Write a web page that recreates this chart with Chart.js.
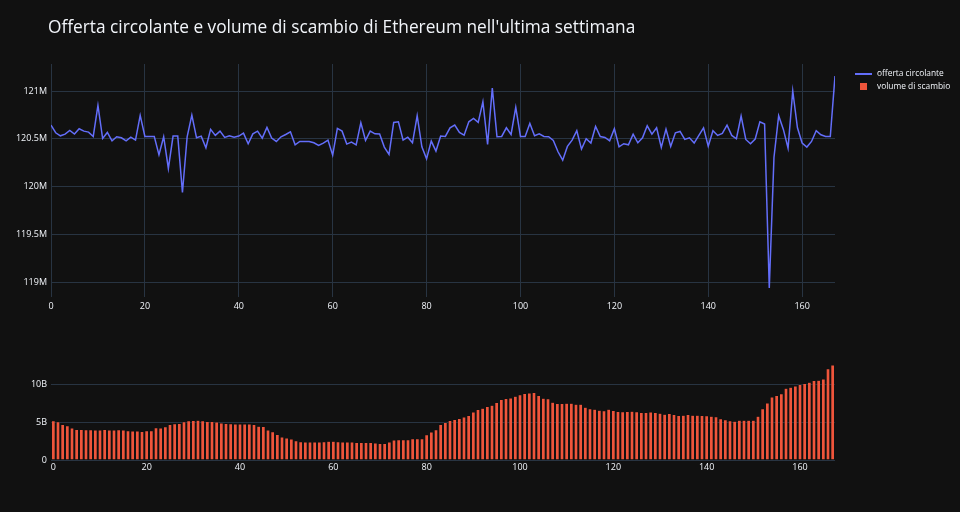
<!DOCTYPE html>
<html>
<head>
<meta charset="utf-8">
<script src="https://cdn.jsdelivr.net/npm/chart.js@4.4.1/dist/chart.umd.min.js"></script>
<style>
  html, body { margin: 0; padding: 0; background: #111111; }
  #wrap { position: relative; width: 960px; height: 512px; background: #111111; overflow: hidden; font-family: "Open Sans", "DejaVu Sans", sans-serif; }
  #title { position: absolute; left: 48px; top: 15px; font-size: 17.3px; color: #f2f5fa; white-space: nowrap; }
  #topCanvas { position: absolute; left: 0; top: 0; }
  #bottomCanvas { position: absolute; left: 0; top: 320px; }
  .legend { position: absolute; left: 855px; font-size: 8.4px; color: #f2f5fa; white-space: nowrap; }
  .legend .sw { display: inline-block; vertical-align: middle; margin-right: 5px; }
</style>
</head>
<body>
<div id="wrap">
  <canvas id="topCanvas" width="960" height="320"></canvas>
  <canvas id="bottomCanvas" width="960" height="192"></canvas>
  <div id="title">Offerta circolante e volume di scambio di Ethereum nell'ultima settimana</div>
  <div class="legend" style="top:67px;"><span class="sw" style="width:17px;height:2px;background:#636efa;"></span>offerta circolante</div>
  <div class="legend" style="top:80px;"><span class="sw" style="width:7px;height:7px;background:#ef553b;margin-left:5px;margin-right:10px;"></span>volume di scambio</div>
</div>
<script>
// hours over the last week (0..167)
const hours = Array.from({ length: 168 }, (_, i) => i);

// circulating supply, millions of ETH
const supply = [
  120.643, 120.563, 120.531, 120.549, 120.587, 120.549, 120.605, 120.580, 120.570, 120.524,
  120.850, 120.503, 120.566, 120.479, 120.521, 120.510, 120.479, 120.517, 120.486, 120.745,
  120.524, 120.524, 120.524, 120.332, 120.521, 120.189, 120.528, 120.528, 119.937, 120.521,
  120.748, 120.510, 120.528, 120.406, 120.598, 120.535, 120.580, 120.514, 120.531, 120.517,
  120.528, 120.559, 120.448, 120.552, 120.580, 120.507, 120.619, 120.507, 120.472, 120.521,
  120.545, 120.573, 120.437, 120.472, 120.472, 120.472, 120.458, 120.430, 120.455, 120.486,
  120.329, 120.608, 120.580, 120.444, 120.465, 120.437, 120.668, 120.483, 120.580, 120.552,
  120.549, 120.413, 120.336, 120.671, 120.678, 120.486, 120.517, 120.458, 120.741, 120.416,
  120.290, 120.476, 120.371, 120.528, 120.524, 120.615, 120.643, 120.566, 120.538, 120.678,
  120.713, 120.671, 120.888, 120.441, 121.031, 120.521, 120.524, 120.615, 120.545, 120.829,
  120.524, 120.524, 120.661, 120.531, 120.552, 120.524, 120.521, 120.483, 120.364, 120.276,
  120.420, 120.486, 120.584, 120.392, 120.500, 120.455, 120.629, 120.524, 120.514, 120.479,
  120.605, 120.416, 120.448, 120.437, 120.549, 120.458, 120.510, 120.636, 120.549, 120.615,
  120.409, 120.601, 120.420, 120.563, 120.577, 120.493, 120.510, 120.455, 120.535, 120.615,
  120.423, 120.584, 120.535, 120.556, 120.643, 120.535, 120.500, 120.738, 120.493, 120.448,
  120.497, 120.678, 120.654, 118.937, 120.304, 120.741, 120.598, 120.402, 121.000, 120.615,
  120.455, 120.413, 120.472, 120.584, 120.542, 120.524, 120.524, 121.157
];

// trading volume, billions
const volume = [
  5.18, 5.04, 4.69, 4.52, 4.21, 4.04, 4.04, 3.99, 3.99, 3.95,
  3.95, 4.04, 3.95, 3.95, 3.99, 3.95, 3.86, 3.82, 3.82, 3.77,
  3.86, 3.86, 4.25, 4.21, 4.39, 4.69, 4.78, 4.82, 5.04, 5.18,
  5.22, 5.26, 5.18, 5.09, 5.09, 5.00, 4.87, 4.82, 4.78, 4.74,
  4.74, 4.74, 4.74, 4.69, 4.47, 4.43, 3.95, 3.73, 3.38, 3.03,
  2.89, 2.76, 2.54, 2.41, 2.39, 2.37, 2.37, 2.37, 2.41, 2.46,
  2.46, 2.41, 2.37, 2.37, 2.37, 2.32, 2.32, 2.32, 2.32, 2.24,
  2.19, 2.19, 2.37, 2.63, 2.68, 2.68, 2.68, 2.81, 2.81, 2.81,
  3.33, 3.68, 3.99, 4.69, 4.96, 5.22, 5.35, 5.48, 5.66, 5.88,
  6.32, 6.67, 6.84, 7.06, 7.24, 7.59, 7.98, 8.11, 8.20, 8.42,
  8.60, 8.77, 8.86, 8.90, 8.51, 8.16, 8.07, 7.63, 7.46, 7.46,
  7.50, 7.50, 7.37, 7.37, 6.97, 6.75, 6.71, 6.58, 6.49, 6.71,
  6.54, 6.40, 6.36, 6.40, 6.45, 6.36, 6.27, 6.27, 6.32, 6.27,
  6.18, 6.05, 6.14, 6.01, 5.88, 5.92, 6.01, 5.92, 5.92, 5.88,
  5.83, 5.79, 5.70, 5.44, 5.31, 5.18, 5.13, 5.26, 5.26, 5.26,
  5.26, 5.79, 6.75, 7.54, 8.33, 8.51, 8.73, 9.47, 9.61, 9.78,
  9.96, 10.09, 10.26, 10.48, 10.53, 10.70, 12.06, 12.54
];

const xTicks = [0, 20, 40, 60, 80, 100, 120, 140, 160];
const supplyTicks = [119, 119.5, 120, 120.5, 121];
const volumeTicks = [0, 5, 10];

const GRID = '#283442';
const TEXT = '#f2f5fa';
const tickFont = { family: '"Open Sans", "DejaVu Sans", sans-serif', size: 9 };

const fixTicks = (list) => (scale) => { scale.ticks = list.map((v) => ({ value: v })); };

new Chart(document.getElementById('topCanvas'), {
  type: 'line',
  data: {
    datasets: [{
      label: 'offerta circolante',
      data: hours.map((h, i) => ({ x: h, y: supply[i] })),
      borderColor: '#636efa',
      borderWidth: 1.5,
      pointRadius: 0,
      tension: 0,
    }],
  },
  options: {
    responsive: false,
    animation: false,
    layout: { padding: { top: 64, right: 125, bottom: 0, left: 0 } },
    plugins: { legend: { display: false }, tooltip: { enabled: false } },
    scales: {
      x: {
        type: 'linear',
        min: 0,
        max: 167,
        afterBuildTicks: fixTicks(xTicks),
        afterFit: (s) => { s.height = 23; },
        grid: { color: GRID, drawTicks: false },
        border: { display: false },
        ticks: { color: TEXT, font: tickFont, padding: 4, maxRotation: 0 },
      },
      y: {
        min: 118.843,
        max: 121.283,
        afterBuildTicks: fixTicks(supplyTicks),
        afterFit: (s) => { s.width = 51; },
        grid: { color: GRID, drawTicks: false },
        border: { display: false },
        ticks: { color: TEXT, font: tickFont, padding: 4, callback: (v) => v + 'M' },
      },
    },
  },
});

new Chart(document.getElementById('bottomCanvas'), {
  type: 'bar',
  data: {
    labels: hours,
    datasets: [{
      label: 'volume di scambio',
      data: volume,
      backgroundColor: '#ef553b',
      borderColor: '#111111',
      borderWidth: 0.5,
      barPercentage: 0.8,
      categoryPercentage: 1,
    }],
  },
  options: {
    responsive: false,
    animation: false,
    layout: { padding: { top: 40, right: 125, bottom: 0, left: 0 } },
    plugins: { legend: { display: false }, tooltip: { enabled: false } },
    scales: {
      x: {
        afterFit: (s) => { s.height = 52; },
        grid: { display: false, drawTicks: false },
        border: { display: false },
        ticks: {
          color: TEXT, font: tickFont, padding: 2, autoSkip: false, maxRotation: 0,
          callback: (v, i) => (i % 20 === 0 ? String(hours[i]) : ''),
        },
      },
      y: {
        min: 0,
        max: 13.2,
        afterBuildTicks: fixTicks(volumeTicks),
        afterFit: (s) => { s.width = 51; },
        grid: { color: GRID, drawTicks: false },
        border: { display: false },
        ticks: { color: TEXT, font: tickFont, padding: 4, callback: (v) => (v === 0 ? '0' : v + 'B') },
      },
    },
  },
});
</script>
</body>
</html>
